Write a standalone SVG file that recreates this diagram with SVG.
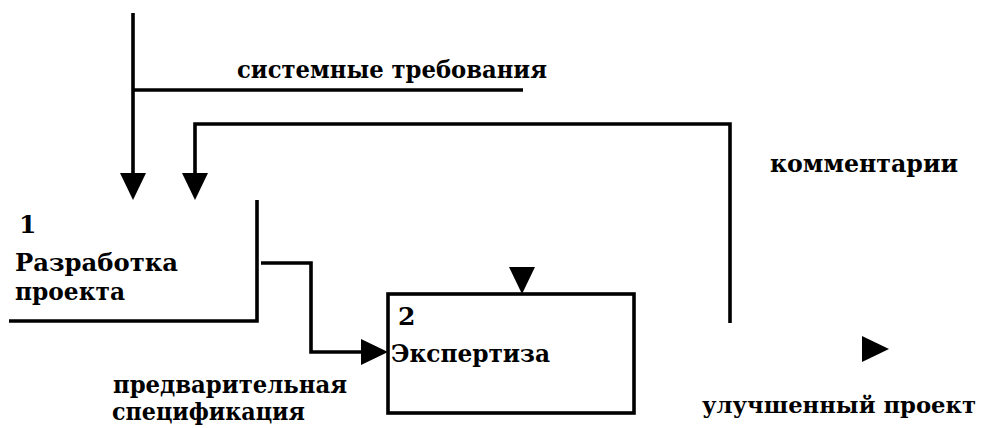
<svg xmlns="http://www.w3.org/2000/svg" width="986" height="428" viewBox="0 0 986 428">
  <style>
    .ln { fill: none; stroke: #000; stroke-width: 3.6; stroke-linecap: butt; stroke-linejoin: miter; }
    .ah { fill: #000; }
    .t { font-family: "DejaVu Serif", "Liberation Serif", serif; font-weight: bold; font-size: 25px; fill: #000; }
    .t-sm { font-size: 22px; }
  </style>
  <defs>
    <!-- downward arrowhead, tip at origin -->
    <path id="ahDown" class="ah" d="M-13,-27 L13,-27 L0,0 Z"/>
  </defs>

  <rect width="986" height="428" fill="#fff"/>

  <!-- activity 1: open box (right edge and bottom only) -->
  <g id="node-1">
    <path class="ln" d="M257,200 V321 H9"/>
    <text class="t" x="19" y="233">1</text>
    <text class="t" x="15" y="271" textLength="163" lengthAdjust="spacingAndGlyphs">Разработка</text>
    <text class="t" x="15" y="300" textLength="110" lengthAdjust="spacingAndGlyphs">проекта</text>
  </g>

  <!-- activity 2 -->
  <g id="node-2">
    <rect class="ln" x="388" y="294" width="246" height="119"/>
    <text class="t" x="398" y="325">2</text>
    <text class="t" x="391" y="362" textLength="159" lengthAdjust="spacingAndGlyphs">Экспертиза</text>
  </g>

  <!-- arrows and their labels -->
  <g id="connectors">
    <!-- system requirements: control into activity 1 -->
    <path class="ln" d="M133,13 V175"/>
    <path class="ln" d="M133,90 H523"/>
    <use href="#ahDown" x="133" y="200"/>
    <text class="t" x="237" y="78" textLength="310" lengthAdjust="spacingAndGlyphs">системные требования</text>

    <!-- comments: feedback from right back into activity 1 -->
    <path class="ln" d="M195,175 V124 H730 V323"/>
    <use href="#ahDown" x="195" y="200"/>
    <text class="t" x="770" y="172" textLength="188" lengthAdjust="spacingAndGlyphs">комментарии</text>

    <!-- preliminary specification: output of 1 into 2 -->
    <path class="ln" d="M261,263 H311 V352 H362"/>
    <use href="#ahDown" transform="translate(388,352) rotate(-90)"/>
    <text class="t" x="113" y="393" textLength="234" lengthAdjust="spacingAndGlyphs">предварительная</text>
    <text class="t" x="112" y="420" textLength="193" lengthAdjust="spacingAndGlyphs">спецификация</text>

    <!-- control arrowhead above activity 2 -->
    <use href="#ahDown" x="522" y="294"/>

    <!-- improved project: output -->
    <use href="#ahDown" transform="translate(889,349) rotate(-90)"/>
    <text class="t t-sm" x="702" y="413" textLength="274" lengthAdjust="spacingAndGlyphs">улучшенный проект</text>
  </g>
</svg>
